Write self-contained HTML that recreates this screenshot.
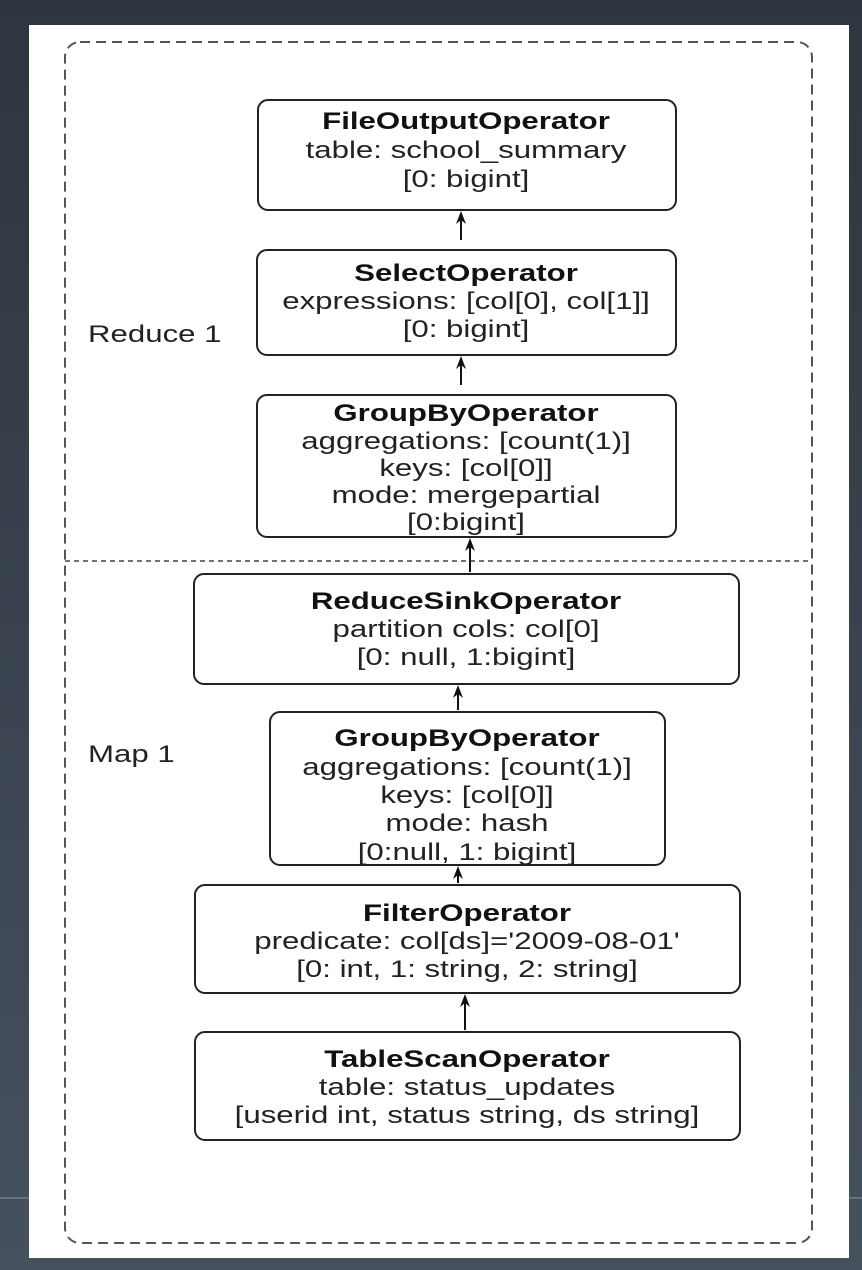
<!DOCTYPE html>
<html><head><meta charset="utf-8"><style>
html,body{margin:0;padding:0;width:862px;height:1270px;overflow:hidden;background:linear-gradient(#2d353f,#46515e);}
svg{display:block}
text{font-family:"Liberation Sans",Arial,sans-serif;font-size:24px;fill:#222}
.b{font-weight:bold;fill:#111}
</style></head><body>
<svg width="862" height="1270" viewBox="0 0 862 1270" xmlns="http://www.w3.org/2000/svg">
<line x1="0" y1="1198" x2="862" y2="1198" stroke="#8a96a3" stroke-width="1"/>
<rect x="29" y="25" width="820" height="1233" fill="#fff"/>
<rect x="65" y="42" width="747" height="1201" rx="15" fill="none" stroke="#555" stroke-width="2" stroke-dasharray="10,6"/>
<line x1="65" y1="561" x2="812" y2="561" stroke="#444" stroke-width="1.5" stroke-dasharray="5,4"/>
<g fill="#fff" stroke="#222" stroke-width="2">
<rect x="258" y="100" width="418" height="110" rx="10"/>
<rect x="257" y="250" width="419" height="105" rx="10"/>
<rect x="257" y="395" width="419" height="142" rx="10"/>
<rect x="194" y="574" width="545" height="110" rx="10"/>
<rect x="270" y="712" width="395" height="153" rx="10"/>
<rect x="195" y="885" width="545" height="108" rx="10"/>
<rect x="195" y="1032" width="545" height="108" rx="10"/>
</g>
<g stroke="#111" stroke-width="2">
<line x1="461" y1="240" x2="461" y2="218"/>
<line x1="461" y1="385" x2="461" y2="363"/>
<line x1="470" y1="572" x2="470" y2="545"/>
<line x1="458" y1="710" x2="458" y2="692"/>
<line x1="458" y1="883" x2="458" y2="873"/>
<line x1="465" y1="1030" x2="465" y2="1001"/>
</g>
<g fill="#111">
<path d="M461,211 l-5,13 l5,-4 l5,4 Z"/>
<path d="M461,356 l-5,13 l5,-4 l5,4 Z"/>
<path d="M470,538 l-5,13 l5,-4 l5,4 Z"/>
<path d="M458,685 l-5,13 l5,-4 l5,4 Z"/>
<path d="M458,866 l-5,13 l5,-4 l5,4 Z"/>
<path d="M465,994 l-5,13 l5,-4 l5,4 Z"/>
</g>
<g text-anchor="middle">
<text class="b" transform="translate(466,129) scale(1.3,1)">FileOutputOperator</text>
<text transform="translate(466,158) scale(1.3,1)">table: school_summary</text>
<text transform="translate(466,187) scale(1.3,1)">[0: bigint]</text>

<text class="b" transform="translate(466,281) scale(1.3,1)">SelectOperator</text>
<text transform="translate(466,309) scale(1.3,1)">expressions: [col[0], col[1]]</text>
<text transform="translate(466,337) scale(1.3,1)">[0: bigint]</text>

<text class="b" transform="translate(466,421) scale(1.3,1)">GroupByOperator</text>
<text transform="translate(466,449) scale(1.3,1)">aggregations: [count(1)]</text>
<text transform="translate(466,476) scale(1.3,1)">keys: [col[0]]</text>
<text transform="translate(466,503) scale(1.3,1)">mode: mergepartial</text>
<text transform="translate(466,530) scale(1.3,1)">[0:bigint]</text>

<text class="b" transform="translate(466,609) scale(1.3,1)">ReduceSinkOperator</text>
<text transform="translate(466,637) scale(1.3,1)">partition cols: col[0]</text>
<text transform="translate(466,665) scale(1.3,1)">[0: null, 1:bigint]</text>

<text class="b" transform="translate(467,746) scale(1.3,1)">GroupByOperator</text>
<text transform="translate(467,775) scale(1.3,1)">aggregations: [count(1)]</text>
<text transform="translate(467,803) scale(1.3,1)">keys: [col[0]]</text>
<text transform="translate(467,831) scale(1.3,1)">mode: hash</text>
<text transform="translate(467,860) scale(1.3,1)">[0:null, 1: bigint]</text>

<text class="b" transform="translate(467,921) scale(1.3,1)">FilterOperator</text>
<text transform="translate(467,949) scale(1.3,1)">predicate: col[ds]='2009-08-01'</text>
<text transform="translate(467,977) scale(1.3,1)">[0: int, 1: string, 2: string]</text>

<text class="b" transform="translate(467,1067) scale(1.3,1)">TableScanOperator</text>
<text transform="translate(467,1095) scale(1.3,1)">table: status_updates</text>
<text transform="translate(467,1123) scale(1.3,1)">[userid int, status string, ds string]</text>
</g>
<text transform="translate(88,342) scale(1.3,1)">Reduce 1</text>
<text transform="translate(88,762) scale(1.3,1)">Map 1</text>
</svg>
</body></html>
